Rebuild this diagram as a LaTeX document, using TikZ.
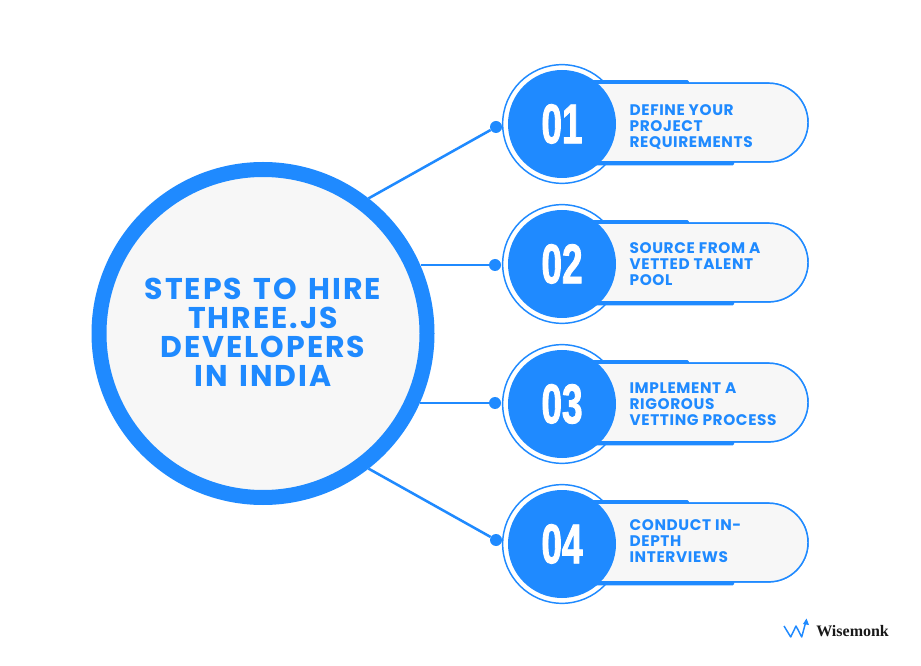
\documentclass[tikz,border=0pt]{standalone}
\usepackage{fontspec}
\setmainfont{Poppins}
\newfontfamily\hubfont[LetterSpace=6.5,WordSpace=1.4]{Poppins}
\newfontfamily\stepfont[LetterSpace=4]{Poppins}
\newfontfamily\numfont[FakeStretch=0.66,FakeBold=1.5]{Liberation Sans}
\newfontfamily\logofont{Liberation Serif}
\usetikzlibrary{arrows,calc,positioning}
\definecolor{wblue}{HTML}{1F8AFF}
\definecolor{wgray}{HTML}{F7F7F7}
\tikzstyle{hub}=[circle,draw=wblue,fill=wgray,line width=11.25pt,minimum size=246pt,inner sep=0pt,text=wblue,align=center,font=\hubfont\bfseries\fontsize{22.5}{21.7}\selectfont]
\tikzstyle{ring}=[circle,draw=wblue,fill=white,line width=1.1pt,minimum size=89pt,inner sep=0pt]
\tikzstyle{disc}=[circle,fill=wblue,minimum size=81pt,inner sep=0pt,text=white,font=\numfont\bfseries\fontsize{42}{42}\selectfont]
\tikzstyle{pill}=[draw=wblue,fill=wgray,line width=1.1pt,rounded corners=29.5pt,minimum width=201pt,minimum height=59pt,inner sep=0pt,node distance=84pt]
\tikzstyle{bartop}=[fill=wblue,rounded corners=1pt,minimum width=75pt,minimum height=3.4pt,inner sep=0pt,anchor=north west,xshift=37pt,yshift=1.9pt]
\tikzstyle{barbot}=[fill=wblue,rounded corners=1pt,minimum width=109pt,minimum height=3.4pt,inner sep=0pt,anchor=south west,xshift=37pt,yshift=-2.2pt]
\tikzstyle{steptext}=[anchor=west,xshift=50.5pt,inner sep=0pt,text=wblue,align=left,font=\stepfont\bfseries\fontsize{11.5}{12}\selectfont]
\tikzstyle{dot}=[circle,fill=wblue,minimum size=9pt,inner sep=0pt]
\tikzstyle{link}=[draw=wblue,line width=1.9pt]

\begin{document}
\begin{tikzpicture}[x=0.75pt,y=-0.75pt,>=latex']
    \useasboundingbox (0,0) rectangle (921,666);
    \fill[white] (0,0) rectangle (921,666);

    \node [hub] (hub) at (263,333.5) {\raisebox{1.5pt}{STEPS TO HIRE}\\\raisebox{1.5pt}{THREE.JS}\\\raisebox{1.5pt}{DEVELOPERS}\\\raisebox{1.5pt}{IN INDIA}};

    \node [ring] (ring1) at (562,124) {};
    \node [ring] (ring2) [node distance=105pt,below of=ring1] {};
    \node [ring] (ring3) [node distance=105pt,below of=ring2] {};
    \node [ring] (ring4) [node distance=105pt,below of=ring3] {};

    \node [pill] (pill1) [right of=ring1,yshift=1.1pt] {};
    \node [pill] (pill2) [right of=ring2,yshift=1.1pt] {};
    \node [pill] (pill3) [right of=ring3,yshift=1.1pt] {};
    \node [pill] (pill4) [right of=ring4,yshift=1.1pt] {};

    % bars peeking out behind the pills
    \node [bartop] (top1) at (pill1.north west) {};
    \node [barbot] (bot1) at (pill1.south west) {};
    \node [bartop] (top2) at (pill2.north west) {};
    \node [barbot] (bot2) at (pill2.south west) {};
    \node [bartop] (top3) at (pill3.north west) {};
    \node [barbot] (bot3) at (pill3.south west) {};
    \node [bartop] (top4) at (pill4.north west) {};
    \node [barbot] (bot4) at (pill4.south west) {};
    \node [pill] at (pill1) {};
    \node [pill] at (pill2) {};
    \node [pill] at (pill3) {};
    \node [pill] at (pill4) {};

    \node [disc] (disc1) at (ring1) {01};
    \node [disc] (disc2) at (ring2) {02};
    \node [disc] (disc3) at (ring3) {03};
    \node [disc] (disc4) at (ring4) {04};

    \node [steptext,yshift=-2.25pt] (text1) at (ring1.center) {DEFINE YOUR\\PROJECT\\REQUIREMENTS};
    \node [steptext] (text2) at (ring2.center) {SOURCE FROM A\\VETTED TALENT\\POOL};
    \node [steptext] (text3) at (ring3.center) {IMPLEMENT A\\RIGOROUS\\VETTING PROCESS};
    \node [steptext,yshift=2.25pt] (text4) at (ring4.center) {CONDUCT IN-\\DEPTH\\INTERVIEWS};

    \node [dot] (dot1) at (496,127) {};
    \node [dot] (dot2) at (495,265) {};
    \node [dot] (dot3) at (495,403) {};
    \node [dot] (dot4) at (496,540) {};

    \draw [link] (hub.52) -- (dot1);
    \draw [link] (hub.23.5 |- dot2) -- (dot2);
    \draw [link] (hub.-24 |- dot3) -- (dot3);
    \draw [link] (hub.-52) -- (dot4);

    % logo
    \node [anchor=west,inner sep=0pt,font=\logofont\bfseries\fontsize{12}{12}\selectfont,text=black!90] (logo) at (816,631) {Wisemonk};
    \draw [wblue,line width=1.1pt,line join=round] (784,626) -- (790.7,637) -- (796,626) -- (801.7,637) -- (805.5,623);
    \fill [wblue] (806.5,618.5) -- (809,625) -- (803,624) -- cycle;
\end{tikzpicture}
\end{document}
